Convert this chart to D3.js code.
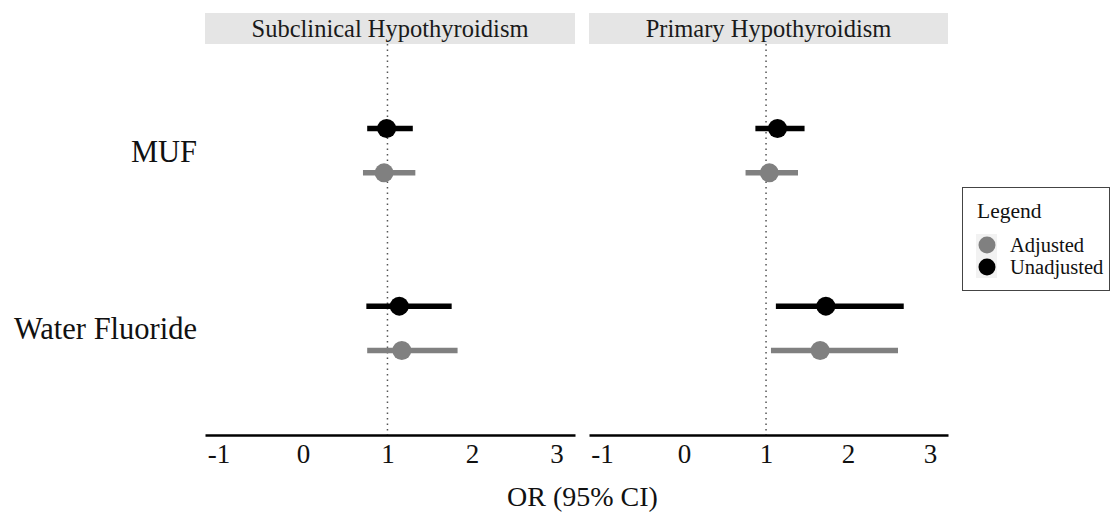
<!DOCTYPE html>
<html>
<head>
<meta charset="utf-8">
<script src="https://cdn.jsdelivr.net/npm/d3@7"></script>
<style>
  body { margin: 0; background: #fff; }
  svg { display: block; }
  text { font-family: "Liberation Serif", "Times New Roman", serif; }
</style>
</head>
<body>
<svg id="chart" width="1111" height="514"></svg>
<script>
// ---- data ----
const categories = ["MUF", "Water Fluoride"];
const panels = ["Subclinical Hypothyroidism", "Primary Hypothyroidism"];
const series = ["Unadjusted", "Adjusted"];
const xTicks = [-1, 0, 1, 2, 3];
const xTickLabels = ["-1", "0", "1", "2", "3"];

// OR estimates per panel, per series, per category
const subUnadjOR = [0.99, 1.14];
const subUnadjLo = [0.76, 0.75];
const subUnadjHi = [1.30, 1.76];
const subAdjOR = [0.96, 1.17];
const subAdjLo = [0.71, 0.76];
const subAdjHi = [1.33, 1.83];

const priUnadjOR = [1.14, 1.73];
const priUnadjLo = [0.87, 1.12];
const priUnadjHi = [1.47, 2.68];
const priAdjOR = [1.04, 1.66];
const priAdjLo = [0.75, 1.06];
const priAdjHi = [1.39, 2.61];

const panelData = [
  { Unadjusted: [subUnadjOR, subUnadjLo, subUnadjHi], Adjusted: [subAdjOR, subAdjLo, subAdjHi] },
  { Unadjusted: [priUnadjOR, priUnadjLo, priUnadjHi], Adjusted: [priAdjOR, priAdjLo, priAdjHi] }
];

const colors = { Adjusted: "#808080", Unadjusted: "#000000" };
const dodge = { Unadjusted: -0.125, Adjusted: 0.125 };

// ---- layout ----
const svg = d3.select("#chart");
const panelTop = 44, panelBottom = 435;
const stripTop = 13;
const panelRanges = [[205, 575], [589, 948]];
const xDomain = [-1.16, 3.22];

const y = d3.scalePoint().domain(categories).range([panelTop, panelBottom]).padding(0.6);
const step = y.step();

// y-axis labels
svg.append("g").selectAll("text").data(categories).join("text")
  .attr("x", 197)
  .attr("y", d => y(d))
  .attr("dy", "0.36em")
  .attr("text-anchor", "end")
  .attr("font-size", 30.5)
  .attr("fill", "#111")
  .text(d => d);

panels.forEach((pname, pi) => {
  const [x0, x1] = panelRanges[pi];
  const x = d3.scaleLinear().domain(xDomain).range([x0, x1]);
  const g = svg.append("g");

  // strip
  g.append("rect").attr("x", x0).attr("y", stripTop)
    .attr("width", x1 - x0).attr("height", panelTop - stripTop)
    .attr("fill", "#e5e5e5");
  g.append("text").attr("x", (x0 + x1) / 2).attr("y", 37)
    .attr("text-anchor", "middle").attr("font-size", 24.5).attr("fill", "#1a1a1a")
    .text(pname);

  // reference line at 1
  g.append("line").attr("x1", x(1)).attr("x2", x(1))
    .attr("y1", panelTop).attr("y2", panelBottom)
    .attr("stroke", "#555").attr("stroke-width", 1.5)
    .attr("stroke-dasharray", "1.5,4");

  // x axis
  const ax = g.append("g").attr("transform", `translate(0,${panelBottom})`)
    .call(d3.axisBottom(x).tickValues(xTicks).tickSize(0).tickPadding(9)
      .tickFormat((d, i) => xTickLabels[i]));
  ax.select(".domain").attr("stroke", "#000").attr("stroke-width", 2.5);
  ax.selectAll("text").attr("font-size", 27).attr("fill", "#111")
    .style("font-family", '"Liberation Serif", "Times New Roman", serif');

  // marks
  series.forEach(s => {
    const [est, lo, hi] = panelData[pi][s];
    const rows = categories.map((c, i) => ({ c, est: est[i], lo: lo[i], hi: hi[i] }));
    const yy = d => y(d.c) + dodge[s] * step;
    g.append("g").selectAll("line").data(rows).join("line")
      .attr("x1", d => x(d.lo)).attr("x2", d => x(d.hi))
      .attr("y1", yy).attr("y2", yy)
      .attr("stroke", colors[s]).attr("stroke-width", 5.5);
    g.append("g").selectAll("circle").data(rows).join("circle")
      .attr("cx", d => x(d.est)).attr("cy", yy).attr("r", 9.5)
      .attr("fill", colors[s]);
  });
});

// x axis title
svg.append("text").attr("x", (205 + 948) / 2 + 6).attr("y", 506)
  .attr("text-anchor", "middle").attr("font-size", 28).attr("fill", "#111")
  .text("OR (95% CI)");

// legend
const lg = svg.append("g");
lg.append("rect").attr("x", 962.5).attr("y", 187.5).attr("width", 147).attr("height", 103)
  .attr("fill", "#fff").attr("stroke", "#444").attr("stroke-width", 1);
lg.append("text").attr("x", 977).attr("y", 218).attr("font-size", 21.5).attr("fill", "#111").text("Legend");
const legendOrder = ["Adjusted", "Unadjusted"];
lg.append("rect").attr("x", 976).attr("y", 234).attr("width", 21).attr("height", 44).attr("fill", "#f2f2f2");
lg.selectAll("circle.k").data(legendOrder).join("circle").attr("class", "k")
  .attr("cx", 987).attr("cy", (d, i) => 245 + i * 22).attr("r", 8.5)
  .attr("fill", d => colors[d]);
lg.selectAll("text.k").data(legendOrder).join("text").attr("class", "k")
  .attr("x", 1010).attr("y", (d, i) => 251.5 + i * 22).attr("font-size", 20.5).attr("fill", "#111")
  .text(d => d);
</script>
</body>
</html>
